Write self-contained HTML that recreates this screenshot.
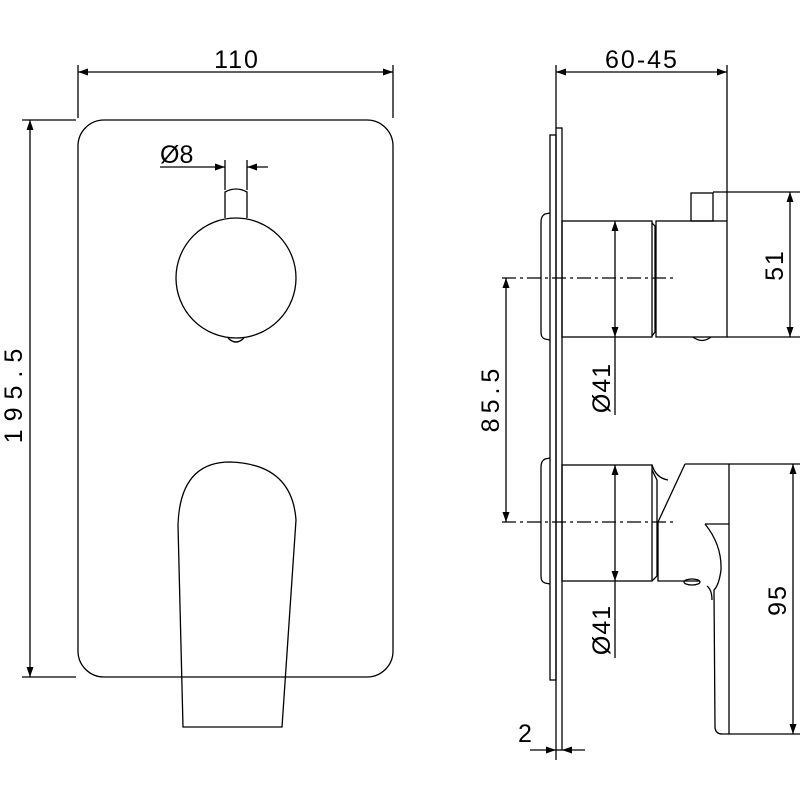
<!DOCTYPE html>
<html><head><style>body{margin:0;background:#fff}</style></head><body>
<svg width="800" height="800" viewBox="0 0 800 800" xmlns="http://www.w3.org/2000/svg" font-family="Liberation Sans, sans-serif">
<defs><marker id="a" viewBox="0 0 10 10" refX="10" refY="5" markerWidth="10" markerHeight="10" orient="auto-start-reverse" markerUnits="userSpaceOnUse"><path d="M0,1.5L10,5L0,8.5z" fill="#000"/></marker></defs>
<g fill="none" stroke="#000" stroke-width="1.3">
<rect x="78" y="120" width="315" height="557" rx="26"/>
<line x1="78" y1="65" x2="78" y2="118"/><line x1="393" y1="65" x2="393" y2="118"/>
<line x1="78" y1="72" x2="393" y2="72" marker-start="url(#a)" marker-end="url(#a)"/>
<line x1="22" y1="120" x2="76" y2="120"/><line x1="22" y1="677" x2="76" y2="677"/>
<line x1="30" y1="120" x2="30" y2="677" marker-start="url(#a)" marker-end="url(#a)"/>
<circle cx="236" cy="278" r="60"/>
<path d="M225,218 L225,192 Q236,186 247,192 L247,218"/>
<path d="M228,338 Q236,346 244,338"/>
<line x1="225" y1="160" x2="225" y2="190"/><line x1="247" y1="160" x2="247" y2="190"/>
<line x1="160" y1="167" x2="225" y2="167" marker-end="url(#a)"/><line x1="268" y1="167" x2="247" y2="167" marker-end="url(#a)"/>
<path d="M183,727 L178,525 Q180,462 230,462 Q292,464 296,520 L282,727 Z"/>
<rect x="550" y="135" width="6" height="545"/>
<rect x="556" y="128" width="6" height="622"/>
<path d="M550,213 L545,214 Q541,216 541,222 L541,332 Q541,338 545,339 L550,340"/>
<path d="M550,458 L545,459 Q541,461 541,467 L541,576 Q541,582 545,583 L550,584"/>
<rect x="562" y="221" width="90" height="116"/>
<path d="M652,223 L655,226 L655,332 L652,336"/>
<rect x="656" y="221" width="71" height="116"/>
<rect x="691" y="193" width="22" height="28"/>
<path d="M693,337 Q702,344 711,337"/>
<line x1="556" y1="65" x2="556" y2="128"/><line x1="727" y1="65" x2="727" y2="221"/>
<line x1="556" y1="72" x2="727" y2="72" marker-start="url(#a)" marker-end="url(#a)"/>
<line x1="713" y1="192" x2="800" y2="192"/><line x1="727" y1="337" x2="800" y2="337"/>
<line x1="790" y1="192" x2="790" y2="337" marker-start="url(#a)" marker-end="url(#a)"/>
<line x1="615" y1="221" x2="615" y2="337" marker-start="url(#a)" marker-end="url(#a)"/>
<line x1="615" y1="337" x2="615" y2="415"/>
<line x1="502" y1="278" x2="675" y2="278" stroke-dasharray="14,4,3,4"/>
<line x1="502" y1="522" x2="675" y2="522" stroke-dasharray="14,4,3,4"/>
<line x1="506" y1="278" x2="506" y2="522" marker-start="url(#a)" marker-end="url(#a)"/>
<rect x="562" y="465" width="90" height="116"/>
<path d="M652,465 Q656,478 668,480 M652,470 L657,480 L657,576 L652,581"/>
<path d="M685,464 L729,464 L729,734 M685,464 L658,522 L658,581 L700,581"/>
<path d="M705,524 L729,524 M705,524 Q722,545 721,570 Q719,585 714,590 L715,728 Q716,734 722,734 L729,734"/>
<path d="M707,586 Q712,590 712,600"/>
<ellipse cx="692" cy="582" rx="8" ry="3"/>
<line x1="729" y1="464" x2="800" y2="464"/><line x1="729" y1="734" x2="800" y2="734"/>
<line x1="793" y1="464" x2="793" y2="734" marker-start="url(#a)" marker-end="url(#a)"/>
<line x1="615" y1="465" x2="615" y2="581" marker-start="url(#a)" marker-end="url(#a)"/>
<line x1="615" y1="581" x2="615" y2="658"/>
<line x1="556" y1="750" x2="556" y2="760"/>
<line x1="530" y1="750" x2="556" y2="750" marker-end="url(#a)"/><line x1="585" y1="750" x2="562" y2="750" marker-end="url(#a)"/>
</g>
<g font-size="25" fill="#000">
<text x="237" y="68" text-anchor="middle" letter-spacing="2">110</text>
<text x="160" y="163">Ø8</text>
<text transform="translate(22,392) rotate(-90)" text-anchor="middle" letter-spacing="8">195.5</text>
<text x="642" y="68" text-anchor="middle" letter-spacing="2">60-45</text>
<text transform="translate(783,265) rotate(-90)" text-anchor="middle" letter-spacing="2">51</text>
<text transform="translate(499,398) rotate(-90)" text-anchor="middle" letter-spacing="5">85.5</text>
<text transform="translate(610,388) rotate(-90)" text-anchor="middle" letter-spacing="1">Ø41</text>
<text transform="translate(610,630) rotate(-90)" text-anchor="middle" letter-spacing="1">Ø41</text>
<text transform="translate(786,600) rotate(-90)" text-anchor="middle" letter-spacing="2">95</text>
<text x="518" y="742">2</text>
</g>
</svg>
</body></html>
